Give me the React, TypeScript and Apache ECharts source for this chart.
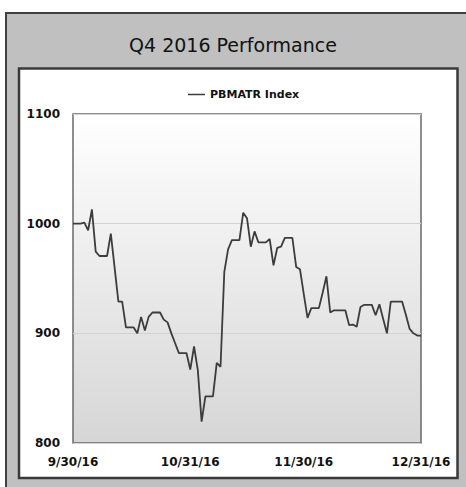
import React, { useEffect, useRef } from "react";
import * as echarts from "echarts";

const SERIES_NAME = "PBMATR Index";
const START_DATE = [2016, 8, 30]; // 9/30/16 (month is 0-based)
const TICK_LABELS = ["9/30/16", "10/31/16", "11/30/16", "12/31/16"];
const Y_TICKS = [800, 900, 1000, 1100];

// daily values 9/30/16 .. 12/31/16 (non-trading days carry the previous value)
const VALUES = [
  1000, 1000, 1000, 1001, 994, 1013, 974.5, 970.5, 970.5, 970.5,
  991, 960, 929, 929, 905.5, 905.5, 905.5, 900, 915, 902.5,
  915, 919, 919, 919, 912.5, 910, 900, 891, 882, 882,
  882, 867, 888, 866.5, 819.5, 842.5, 842.5, 842.5, 873, 869.5,
  956, 976.5, 985, 985, 985, 1010, 1005, 979, 993, 983,
  983, 983, 986, 962, 978, 979, 987, 987, 987, 960.5,
  958.5, 936, 914, 923, 923, 923, 937, 952, 919, 921,
  921, 921, 921, 907.5, 908, 906, 924, 926, 926, 926,
  916.5, 926.5, 913, 900, 929, 929, 929, 929, 917, 904,
  900, 898, 898,
];

function buildDates(n: number): string[] {
  const out: string[] = [];
  const d = new Date(START_DATE[0], START_DATE[1], START_DATE[2]);
  for (let i = 0; i < n; i++) {
    out.push(`${d.getMonth() + 1}/${d.getDate()}/${String(d.getFullYear()).slice(2)}`);
    d.setDate(d.getDate() + 1);
  }
  return out;
}

const DATES = buildDates(VALUES.length);

export default function App() {
  const ref = useRef<HTMLDivElement>(null);
  useEffect(() => {
    if (!ref.current) return;
    const chart = echarts.init(ref.current, null, { renderer: "svg" });
    const font = "DejaVu Sans";
    chart.setOption({
      animation: false,
      backgroundColor: "#ffffff",
      title: {
        text: "Q4 2016 Performance",
        left: "center",
        top: 30,
        textStyle: { fontFamily: font, fontSize: 19, fontWeight: "normal", color: "#111111" },
      },
      legend: {
        data: [SERIES_NAME],
        left: 188,
        top: 89,
        padding: 0,
        icon: "rect",
        itemWidth: 17,
        itemHeight: 1.5,
        textStyle: { fontFamily: font, fontSize: 11, fontWeight: "bold", color: "#111111" },
      },
      graphic: [
        {
          type: "rect",
          z: -100,
          shape: { x: 6, y: 13, width: 480, height: 490 },
          style: { fill: "#c0c0c0", stroke: "#404040", lineWidth: 2 },
        },
        {
          type: "rect",
          z: -90,
          shape: { x: 19, y: 68.5, width: 438.5, height: 409.5 },
          style: { fill: "#ffffff", stroke: "#3a3a3a", lineWidth: 2.5 },
        },
      ],
      grid: {
        left: 73,
        right: 45,
        top: 114,
        bottom: 44,
        show: true,
        borderColor: "#6a6a6a",
        borderWidth: 1.5,
        backgroundColor: new echarts.graphic.LinearGradient(0, 0, 0, 1, [
          { offset: 0, color: "#ffffff" },
          { offset: 1, color: "#d6d6d6" },
        ]),
      },
      xAxis: {
        type: "category",
        data: DATES,
        boundaryGap: false,
        axisLine: { show: false },
        axisTick: { show: false },
        splitLine: { show: false },
        axisLabel: {
          interval: (_i: number, v: string) => TICK_LABELS.includes(v),
          margin: 13,
          fontFamily: font,
          fontSize: 12,
          fontWeight: "bold",
          color: "#111111",
          formatter: (v: string) => (TICK_LABELS.includes(v) ? v : ""),
        },
      },
      yAxis: {
        type: "value",
        min: Y_TICKS[0],
        max: Y_TICKS[Y_TICKS.length - 1],
        interval: 100,
        axisLine: { show: false },
        axisTick: { show: false },
        splitLine: { show: true, lineStyle: { color: "#d2d2d2", width: 1 } },
        axisLabel: {
          margin: 13,
          fontFamily: font,
          fontSize: 12,
          fontWeight: "bold",
          color: "#111111",
          formatter: (v: number) => String(v),
        },
      },
      series: [
        {
          name: SERIES_NAME,
          type: "line",
          data: VALUES,
          showSymbol: false,
          symbol: "none",
          lineStyle: { color: "#3c3c3c", width: 1.8 },
          itemStyle: { color: "#3c3c3c" },
        },
      ],
    });
    return () => chart.dispose();
  }, []);
  return (
    <div
      ref={ref}
      style={{ position: "fixed", left: 0, top: 0, width: 466, height: 487 }}
    />
  );
}
